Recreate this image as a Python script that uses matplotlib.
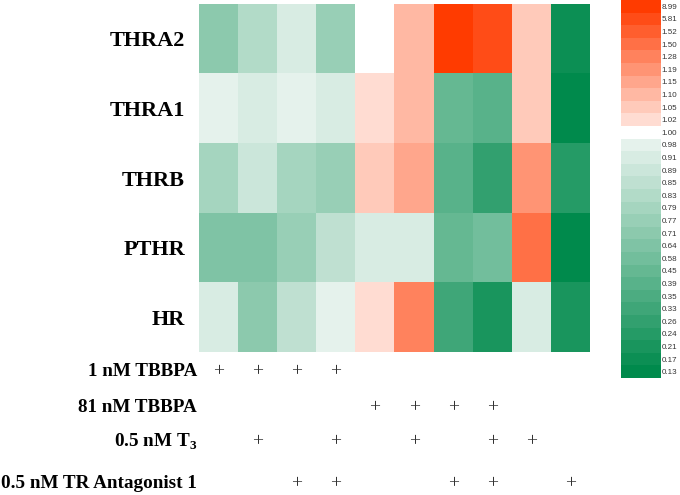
import numpy as np
import matplotlib
matplotlib.use("Agg")
import matplotlib.pyplot as plt
from matplotlib.colors import ListedColormap, BoundaryNorm, LinearSegmentedColormap
from matplotlib.transforms import blended_transform_factory

# data
genes = ["THRA2", "THRA1", "THRB", "PTHR", "HR"]
fold_change = [
    [0.71, 0.83, 0.91, 0.77, 1.00, 1.10, 8.99, 5.81, 1.05, 0.17],
    [0.98, 0.91, 0.98, 0.91, 1.02, 1.10, 0.45, 0.39, 1.05, 0.13],
    [0.79, 0.89, 0.79, 0.77, 1.05, 1.15, 0.39, 0.26, 1.19, 0.24],
    [0.64, 0.64, 0.77, 0.85, 0.91, 0.91, 0.45, 0.58, 1.50, 0.13],
    [0.91, 0.71, 0.85, 0.98, 1.02, 1.28, 0.33, 0.21, 0.91, 0.21],
]
treatments = ["1 nM TBBPA", "81 nM TBBPA", r"0.5 nM T$_\mathbf{3}$", "0.5 nM TR Antagonist 1"]
design = [
    [1, 1, 1, 1, 0, 0, 0, 0, 0, 0],
    [0, 0, 0, 0, 1, 1, 1, 1, 0, 0],
    [0, 1, 0, 1, 0, 1, 0, 1, 1, 0],
    [0, 0, 1, 1, 0, 0, 1, 1, 0, 1],
]
levels = [0.13, 0.17, 0.21, 0.24, 0.26, 0.33, 0.35, 0.39, 0.45, 0.58,
          0.64, 0.71, 0.77, 0.79, 0.83, 0.85, 0.89, 0.91, 0.98,
          1.00,
          1.02, 1.05, 1.10, 1.15, 1.19, 1.28, 1.50, 1.52, 5.81, 8.99]

plt.rcParams["mathtext.fontset"] = "custom"
plt.rcParams["mathtext.rm"] = "Liberation Serif"
plt.rcParams["mathtext.bf"] = "Liberation Serif:bold"

# discrete colour list: greens below 1, white at 1, reds above
greens = LinearSegmentedColormap.from_list("g", ["#008a4c", "#e5f2ec"])(np.linspace(0, 1, 19))
reds = LinearSegmentedColormap.from_list("r", ["#ffdcd2", "#ff3b00"])(np.linspace(0, 1, 10))
colors = list(greens) + [(1, 1, 1, 1)] + list(reds)
cmap = ListedColormap(colors)

lv = np.array(levels)
bounds = np.concatenate([[lv[0] - 0.01], (lv[:-1] + lv[1:]) / 2, [lv[-1] + 1]])
norm = BoundaryNorm(bounds, len(levels))

fig = plt.figure(figsize=(6.8, 4.95), dpi=100)
ax = fig.add_axes([199 / 680, 1 - 352 / 495, 391 / 680, 348 / 495])
ax.imshow(np.array(fold_change), cmap=cmap, norm=norm, aspect="auto", interpolation="nearest")
ax.set_xticks([])
ax.set_yticks(range(len(genes)))
ax.set_yticklabels(genes, fontsize=16, fontweight="bold", family="Liberation Serif")
ax.tick_params(axis="y", length=0, pad=10)
for s in ax.spines.values():
    s.set_visible(False)

# treatment table under the heatmap
trans = blended_transform_factory(ax.transData, fig.transFigure)
row_y = [372, 408, 442, 484]
for i, name in enumerate(treatments):
    yf = 1 - row_y[i] / 495
    fig.text(197 / 680, yf, name, ha="right", va="center", fontsize=13.8,
             fontweight="bold", family="Liberation Serif")
    for j, on in enumerate(design[i]):
        if on:
            fig.text(j, yf, "+", transform=trans, ha="center", va="center",
                     fontsize=14, color="#333333", family="Liberation Serif")

# colour key
cax = fig.add_axes([621 / 680, 1 - 378 / 495, 40 / 680, 378 / 495])
idx = np.arange(len(levels))[::-1].reshape(-1, 1)
cax.imshow(idx, cmap=cmap, norm=BoundaryNorm(np.arange(len(levels) + 1) - 0.5, len(levels)),
           aspect="auto", interpolation="nearest")
cax.set_xticks([])
cax.yaxis.tick_right()
cax.set_yticks(range(len(levels)))
cax.set_yticklabels([f"{v:.2f}" for v in levels[::-1]], fontsize=5.8, color="#333333",
                    family="Liberation Sans")
cax.tick_params(axis="y", length=0, pad=0.5)
for s in cax.spines.values():
    s.set_visible(False)

fig.savefig("out.png", dpi=100)
